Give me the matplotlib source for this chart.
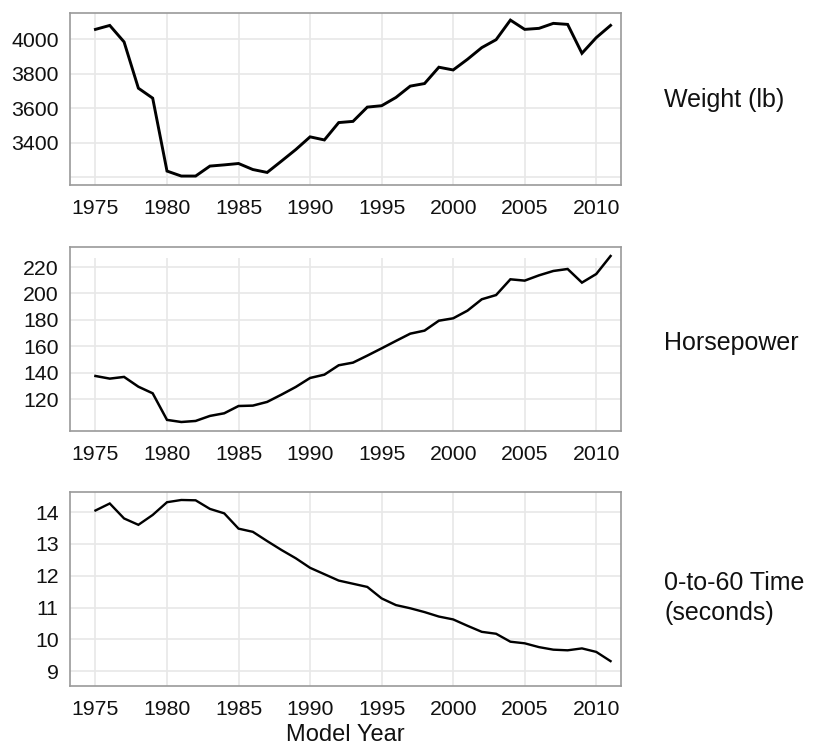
import matplotlib
matplotlib.use("Agg")
import matplotlib.pyplot as plt

plt.rcParams['font.family'] = ['Liberation Sans', 'DejaVu Sans']

years = list(range(1975, 2012))

weight = [4058, 4081, 3985, 3716, 3658, 3234, 3205, 3205, 3263, 3270,
          3278, 3243, 3226, 3292, 3359, 3433, 3415, 3516, 3523, 3606,
          3614, 3662, 3728, 3743, 3838, 3822, 3884, 3952, 3998, 4112,
          4058, 4064, 4093, 4087, 3919, 4010, 4081]

horsepower = [137.6, 135.6, 136.9, 129.5, 124.5, 104.4, 102.8, 103.6, 107.4, 109.4,
              114.9, 115.2, 118.0, 123.5, 129.3, 136.1, 138.6, 145.7, 147.7, 153.0,
              158.5, 164.1, 169.6, 171.9, 179.4, 181.2, 187.0, 195.6, 198.8, 210.7,
              209.7, 213.7, 217.0, 218.5, 208.2, 214.7, 228.3]

accel = [14.05, 14.27, 13.80, 13.60, 13.91, 14.31, 14.38, 14.37, 14.10, 13.96,
         13.48, 13.38, 13.09, 12.81, 12.55, 12.25, 12.05, 11.85, 11.75, 11.65,
         11.29, 11.08, 10.98, 10.86, 10.72, 10.63, 10.43, 10.24, 10.18, 9.93,
         9.88, 9.76, 9.68, 9.66, 9.72, 9.61, 9.32]

x_ticks = [1975, 1980, 1985, 1990, 1995, 2000, 2005, 2010]

weight_grid = [3200, 3400, 3600, 3800, 4000]
weight_labels = [3400, 3600, 3800, 4000]
hp_ticks = [120, 140, 160, 180, 200, 220]
accel_ticks = [9, 10, 11, 12, 13, 14]

labels = ["Weight (lb)", "Horsepower", "0-to-60 Time\n(seconds)"]

W, H = 815, 751
fig = plt.figure(figsize=(W / 100, H / 100), dpi=100)

left, right = 69.7, 621
panels = [(12.7, 185), (247.3, 431), (491.7, 686.3)]
label_y = [100, 343, 598]

grid_col = '#e8e8e8'
frame_col = '#9a9a9a'
txt_col = '#111111'
fs = 15.3

specs = [
    dict(y=weight, ylim=(3153, 4155), grid=weight_grid, ticks=weight_labels, lw=2.1, vtop=None),
    dict(y=horsepower, ylim=(96, 234.9), grid=hp_ticks, ticks=hp_ticks, lw=1.8, vtop=226.6),
    dict(y=accel, ylim=(8.53, 14.64), grid=accel_ticks, ticks=accel_ticks, lw=1.7, vtop=None),
]

for (top, bot), spec, lab, ly in zip(panels, specs, labels, label_y):
    ax = fig.add_axes([left / W, 1 - bot / H, (right - left) / W, (bot - top) / H])
    ax.set_xlim(1973.2, 2011.73)
    ax.set_ylim(*spec['ylim'])
    for g in spec['grid']:
        ax.axhline(g, color=grid_col, lw=1.2, zorder=0)
    vtop = spec['vtop'] if spec['vtop'] is not None else spec['ylim'][1]
    ax.vlines(x_ticks, spec['ylim'][0], vtop, color=grid_col, lw=1.2, zorder=0)
    ax.plot(years, spec['y'], color='black', lw=spec['lw'], solid_joinstyle='miter', zorder=3)
    ax.set_xticks(x_ticks)
    ax.set_xticklabels([str(t) for t in x_ticks], fontsize=fs, color=txt_col)
    ax.set_yticks(spec['ticks'])
    ax.set_yticklabels([str(t) for t in spec['ticks']], fontsize=fs, color=txt_col)
    ax.tick_params(axis='both', length=0)
    ax.tick_params(axis='x', pad=10)
    ax.tick_params(axis='y', pad=8)
    for s in ax.spines.values():
        s.set_color(frame_col)
        s.set_linewidth(1.2)
    fig.text(664 / W, 1 - ly / H, lab, fontsize=18, ha='left', va='center',
             color=txt_col, linespacing=1.3)

fig.text(345.4 / W, 1 - 735 / H, "Model Year", fontsize=17, ha='center', va='center', color=txt_col)

fig.savefig("out.png", dpi=100)
